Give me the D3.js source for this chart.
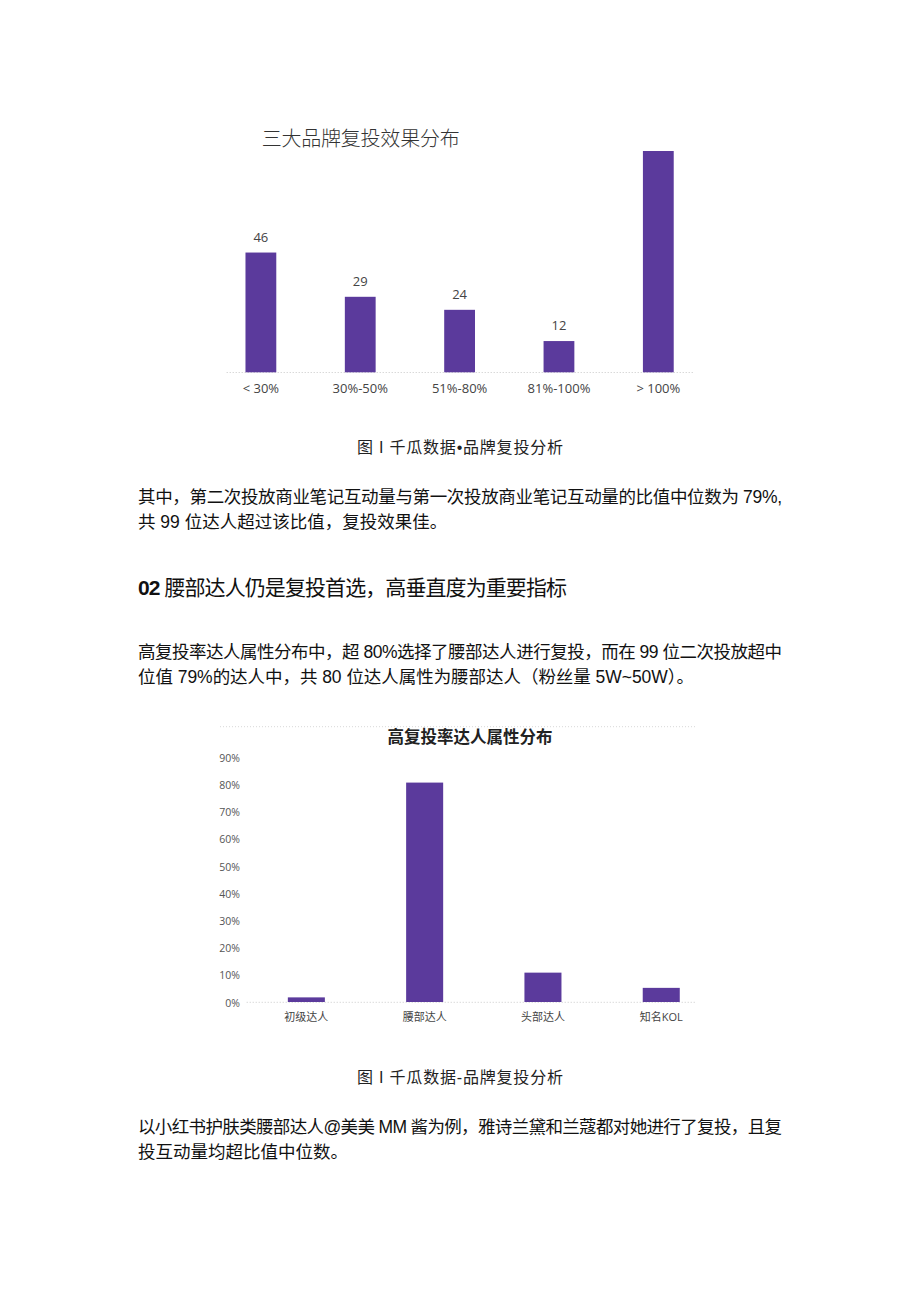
<!DOCTYPE html>
<html><head><meta charset="utf-8">
<script src="https://cdn.jsdelivr.net/npm/d3@7"></script>
<style>html,body{margin:0;padding:0;background:#fff;}svg{display:block;}</style>
</head><body>
<script>
// Chart 1 data
const cats1 = ["< 30%","30%-50%","51%-80%","81%-100%","> 100%"];
const vals1 = [46,29,24,12,85];
const valueLabels1 = ["46","29","24","12",""];
// Chart 2 data
const cats2 = ["初级达人","腰部达人","头部达人","知名KOL"];
const vals2 = [1.7,80.7,10.8,5.2];
const ticks2 = [0,10,20,30,40,50,60,70,80,90];

const W=920,H=1301;
const svg=d3.select("body").append("svg").attr("width",W).attr("height",H);
svg.append("rect").attr("width",W).attr("height",H).attr("fill","#fff");
const purple="#5b3a9c";
const cjk='"Liberation Sans","Noto Sans CJK SC",sans-serif';
const chartFont='"Open Sans","Noto Sans CJK SC",sans-serif';

// ---------- Chart 1 ----------
const x1=d3.scaleBand().domain(cats1).range([211.2,708]).paddingInner(0.69).paddingOuter(0.345);
const y1=d3.scaleLinear().domain([0,85]).range([372.3,151]);
svg.append("text").attr("x",261.7).attr("y",137).attr("dominant-baseline","central")
  .attr("font-family",'"Noto Sans CJK SC",sans-serif').attr("font-weight",300).attr("font-size",20)
  .attr("fill","#333").attr("textLength",198).text("三大品牌复投效果分布");
svg.append("line").attr("x1",226.7).attr("x2",693).attr("y1",372.5).attr("y2",372.5)
  .attr("stroke","#c8c8c8").attr("stroke-dasharray","1,2");
svg.selectAll(".b1").data(vals1).enter().append("rect")
  .attr("x",(d,i)=>x1(cats1[i])).attr("width",x1.bandwidth())
  .attr("y",d=>y1(d)).attr("height",d=>y1(0)-y1(d)).attr("fill",purple);
svg.selectAll(".v1").data(vals1).enter().append("text")
  .attr("x",(d,i)=>x1(cats1[i])+x1.bandwidth()/2).attr("y",d=>y1(d)-16)
  .attr("text-anchor","middle").attr("dominant-baseline","central")
  .attr("font-family",chartFont).attr("font-size",13).attr("fill","#444")
  .text((d,i)=>valueLabels1[i]);
const ax1=svg.append("g").attr("transform","translate(0,372.3)")
  .call(d3.axisBottom(x1).tickSize(0).tickPadding(0));
ax1.select(".domain").remove();
ax1.selectAll("text").attr("y",16).attr("dy",0).attr("dominant-baseline","central")
  .attr("font-family",chartFont).attr("font-size",13).attr("fill","#444");

// ---------- Text blocks ----------
function line(x,y,str,opts={}){
  const t=svg.append("text").attr("x",x).attr("y",y).attr("dominant-baseline","central")
    .attr("font-family",cjk).attr("font-size",opts.size||17.5).attr("fill",opts.fill||"#111");
  if(opts.anchor) t.attr("text-anchor",opts.anchor);
  if(opts.len){t.attr("textLength",opts.len).attr("lengthAdjust","spacing");}
  t.text(str);
  return t;
}
line(460,447,"图 I 千瓜数据•品牌复投分析",{size:16,anchor:"middle",fill:"#222",len:206});
line(138,497,"其中，第二次投放商业笔记互动量与第一次投放商业笔记互动量的比值中位数为 79%,",{len:644});
line(138,522,"共 99 位达人超过该比值，复投效果佳。");
const hd=svg.append("text").attr("x",138).attr("y",587).attr("dominant-baseline","central")
  .attr("font-family",cjk).attr("font-size",21).attr("fill","#111")
  .attr("textLength",429).attr("lengthAdjust","spacing");
hd.append("tspan").attr("font-weight","bold").text("02 ");
hd.append("tspan").text("腰部达人仍是复投首选，高垂直度为重要指标");
line(138,652,"高复投率达人属性分布中，超 80%选择了腰部达人进行复投，而在 99 位二次投放超中",{len:644});
line(138,677,"位值 79%的达人中，共 80 位达人属性为腰部达人（粉丝量 5W~50W）。",{len:556});

// ---------- Chart 2 ----------
const x2=d3.scaleBand().domain(cats2).range([247.2,720.4]).paddingInner(0.687).paddingOuter(0.3435);
const y2=d3.scaleLinear().domain([0,90]).range([1002,757.3]);
svg.append("line").attr("x1",220).attr("x2",697).attr("y1",726.7).attr("y2",726.7)
  .attr("stroke","#d8d8d8").attr("stroke-dasharray","1,2");
svg.append("text").attr("x",470).attr("y",735.7).attr("text-anchor","middle").attr("dominant-baseline","central")
  .attr("font-family",'"Noto Sans CJK SC",sans-serif').attr("font-weight","bold").attr("font-size",16.5)
  .attr("fill","#222").text("高复投率达人属性分布");
svg.append("line").attr("x1",246.7).attr("x2",696.7).attr("y1",1002.3).attr("y2",1002.3)
  .attr("stroke","#c8c8c8").attr("stroke-dasharray","1,2");
const ay2=svg.append("g").attr("transform","translate(240,0)")
  .call(d3.axisLeft(y2).tickValues(ticks2).tickFormat(d=>d+"%").tickSize(0).tickPadding(0));
ay2.select(".domain").remove();
ay2.selectAll("text").attr("dy",0).attr("dominant-baseline","central")
  .attr("font-family",chartFont).attr("font-size",10.5).attr("fill","#555");
svg.selectAll(".b2").data(vals2).enter().append("rect")
  .attr("x",(d,i)=>x2(cats2[i])).attr("width",x2.bandwidth())
  .attr("y",d=>y2(d)).attr("height",d=>y2(0)-y2(d)).attr("fill",purple);
const ax2=svg.append("g").attr("transform","translate(0,1002)")
  .call(d3.axisBottom(x2).tickSize(0).tickPadding(0));
ax2.select(".domain").remove();
ax2.selectAll("text").attr("y",14).attr("dy",0).attr("dominant-baseline","central")
  .attr("font-family",chartFont).attr("font-size",11).attr("fill","#444");

line(460,1077,"图 I 千瓜数据-品牌复投分析",{size:16,anchor:"middle",fill:"#222",len:206});
line(138,1127,"以小红书护肤类腰部达人@美美 MM 酱为例，雅诗兰黛和兰蔻都对她进行了复投，且复",{len:644});
line(138,1152,"投互动量均超比值中位数。");
</script>
</body></html>
